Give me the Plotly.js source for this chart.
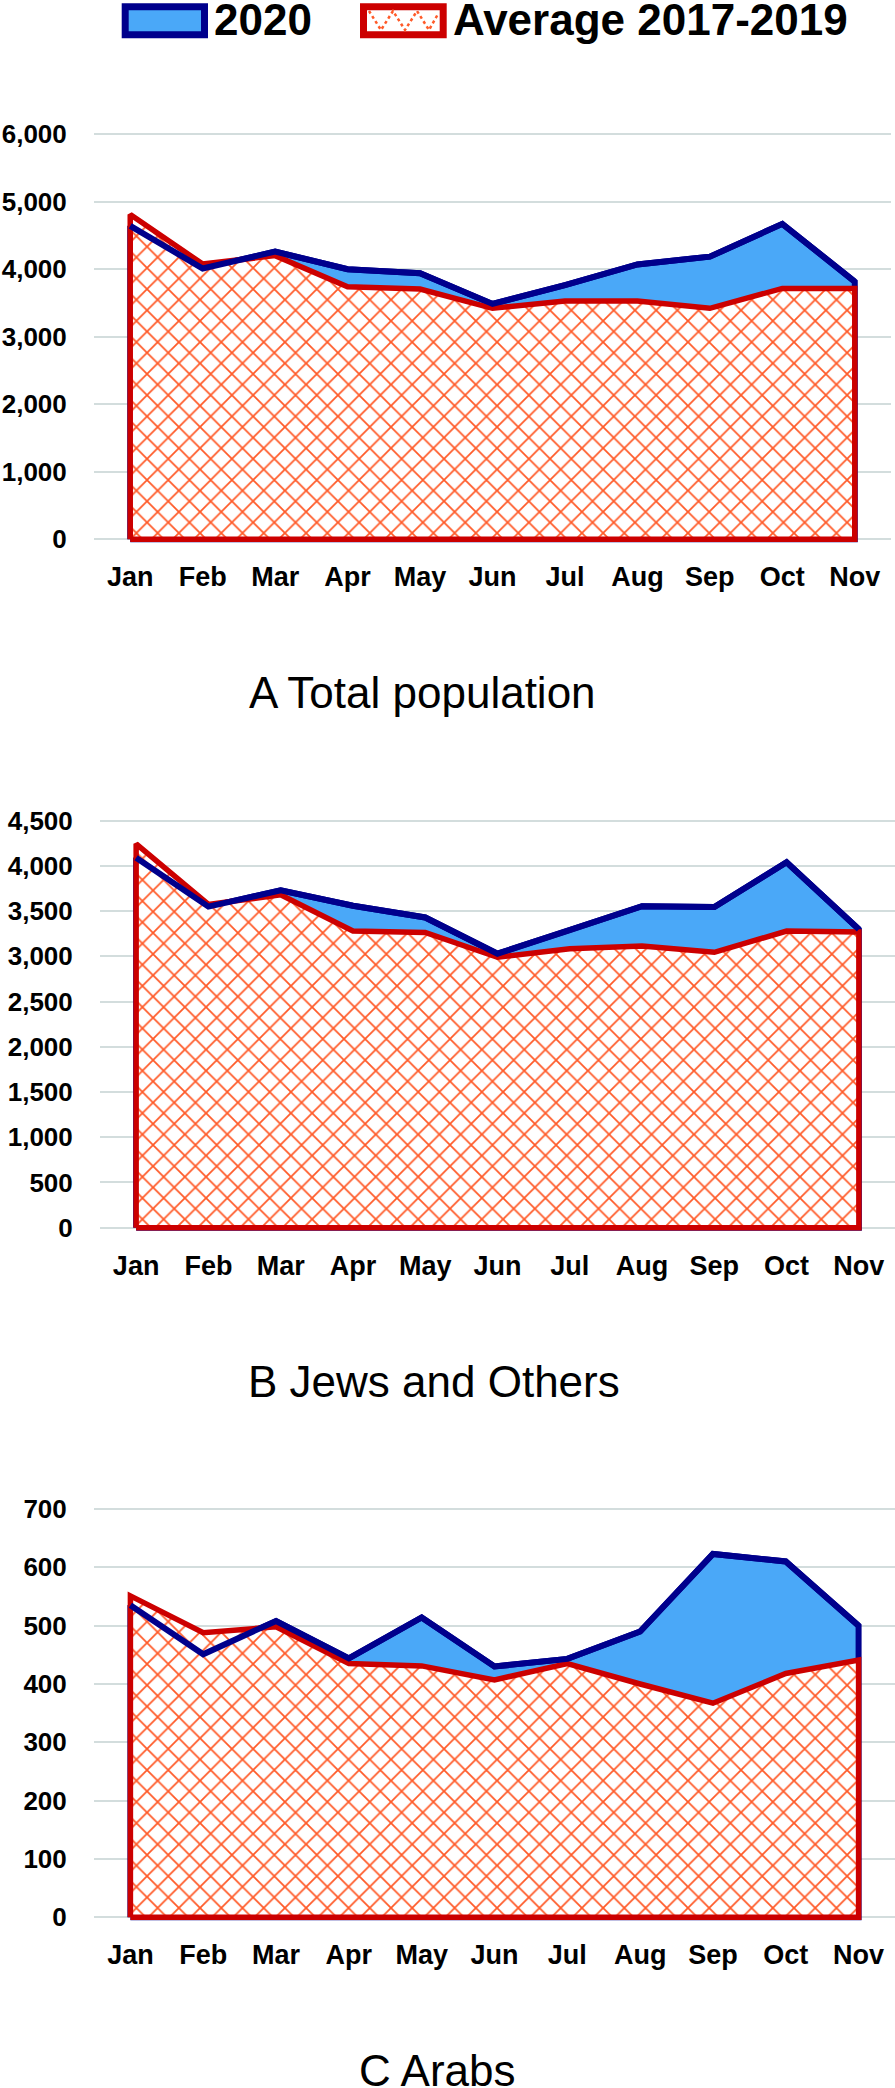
<!DOCTYPE html>
<html>
<head>
<meta charset="utf-8">
<script src="https://cdn.plot.ly/plotly-3.0.1.min.js"></script>
<style>html,body{margin:0;padding:0;background:#fff;}#chart{width:895px;height:2088px;}</style>
</head>
<body>
<div id="chart"></div>
<script>
// ---- data ----
const months = ['Jan','Feb','Mar','Apr','May','Jun','Jul','Aug','Sep','Oct','Nov'];
const totalPop2020 = [4640, 4010, 4260, 4000, 3940, 3485, 3765, 4070, 4185, 4670, 3815];
const totalPopAvg  = [4810, 4075, 4200, 3740, 3705, 3420, 3530, 3530, 3420, 3715, 3715];
const jews2020     = [4090, 3550, 3730, 3560, 3430, 3030, 3290, 3555, 3545, 4040, 3300];
const jewsAvg      = [4245, 3575, 3680, 3280, 3265, 2990, 3085, 3115, 3045, 3280, 3270];
const arabs2020    = [535, 451, 508, 444, 514, 430, 443, 490, 623, 610, 500];
const arabsAvg     = [551, 488, 498, 435, 431, 407, 435, 400, 367, 418, 441];
const seriesNames  = ['2020', 'Average 2017-2019'];
const panelTitles  = ['A Total population', 'B Jews and Others', 'C Arabs'];

// ---- helpers ----
const W = 895, H = 2088;
const px = x => x / W;
const py = y => 1 - y / H;
const FONT = 'Liberation Sans, Arial, sans-serif';
const BLUE_FILL = '#4aa8f8', BLUE_LINE = '#00008c';
const RED_LINE = '#cc0000', HATCH = '#ff5a28';

function areaX() { return [months[0]].concat(months, [months[months.length-1], months[0]]); }
function areaY(v) { return [0].concat(v, [0, 0]); }

const panels = [
  {s:'',  a:totalPop2020, b:totalPopAvg, xd:[94,891],  yd:[130,543.4],   yr:[-60,6060], dt:1000},
  {s:'2', a:jews2020,     b:jewsAvg,     xd:[100,895], yd:[816.2,1232.2],yr:[-50,4550], dt:500},
  {s:'3', a:arabs2020,    b:arabsAvg,    xd:[94,895],  yd:[1504.9,1921.4],yr:[-7,707],  dt:100}
];

const data = [];
const layout = {
  width: W, height: H,
  margin: {l:0, r:0, t:0, b:0, pad:0},
  paper_bgcolor: '#fff', plot_bgcolor: 'rgba(0,0,0,0)',
  showlegend: false, hovermode: false,
  font: {family: FONT, color: '#000'},
  shapes: [], annotations: []
};

panels.forEach(p => {
  // 2020 area (fill + outline)
  data.push({
    type:'scatter', mode:'lines', name: seriesNames[0],
    x: areaX(), y: areaY(p.a), xaxis:'x'+p.s, yaxis:'y'+p.s,
    fill:'toself', fillcolor: BLUE_FILL,
    line:{color: BLUE_LINE, width:6}, hoverinfo:'skip'
  });
  // average area (hatched)
  data.push({
    type:'scatter', mode:'lines', name: seriesNames[1],
    x: areaX(), y: areaY(p.b), xaxis:'x'+p.s, yaxis:'y'+p.s,
    fill:'toself', fillcolor:'#ffffff',
    fillpattern:{shape:'x', fgcolor: HATCH, bgcolor:'#ffffff', size:15, solidity:0.22},
    line:{color: RED_LINE, width:5.5}, hoverinfo:'skip'
  });
  // 2020 line on top
  data.push({
    type:'scatter', mode:'lines', name: seriesNames[0],
    x: months, y: p.a, xaxis:'x'+p.s, yaxis:'y'+p.s,
    line:{color: BLUE_LINE, width:6}, hoverinfo:'skip'
  });
  layout['xaxis'+p.s] = {
    domain:[px(p.xd[0]), px(p.xd[1])], anchor:'y'+p.s,
    type:'category', categoryorder:'array', categoryarray: months,
    range:[-0.5, 10.5], showgrid:false, zeroline:false, showline:false,
    ticks:'outside', ticklen:9, tickcolor:'rgba(0,0,0,0)',
    tickfont:{family:FONT, size:27, weight:700, color:'#000'},
    automargin:false, fixedrange:true
  };
  layout['yaxis'+p.s] = {
    domain:[py(p.yd[1]), py(p.yd[0])], anchor:'x'+p.s,
    range:p.yr, tick0:0, dtick:p.dt, tickformat:',d',
    showgrid:true, gridcolor:'#d3dddd', gridwidth:2,
    zeroline:false, showline:false,
    ticks:'outside', ticklen:21, tickcolor:'rgba(0,0,0,0)',
    tickfont:{family:FONT, size:26, weight:700, color:'#000'},
    automargin:false, fixedrange:true
  };
});

// panel titles
const titlePos = [[422.5, 692], [434, 1381], [437, 2070]];
panelTitles.forEach((t, i) => {
  layout.annotations.push({
    xref:'paper', yref:'paper', x:px(titlePos[i][0]), y:py(titlePos[i][1]),
    xanchor:'center', yanchor:'middle', showarrow:false, text:t,
    font:{family:FONT, size:44, color:'#000'}
  });
});

// legend (drawn at the top)
layout.shapes.push({type:'rect', xref:'paper', yref:'paper',
  x0:px(125.2), x1:px(204.5), y0:py(34.8), y1:py(6.8),
  fillcolor:BLUE_FILL, line:{color:BLUE_LINE, width:7}});
layout.shapes.push({type:'rect', xref:'paper', yref:'paper',
  x0:px(363.5), x1:px(443.2), y0:py(34.8), y1:py(6.8),
  fillcolor:'#ffffff', line:{color:RED_LINE, width:7}});
(function(){
  const zx = [369, 381, 393, 405, 417, 429, 438];
  const zy = [11, 30, 11, 30, 11, 30, 14];
  let d = '';
  zx.forEach((x, i) => { d += (i ? ' L ' : 'M ') + px(x) + ',' + py(zy[i]); });
  layout.shapes.push({type:'path', xref:'paper', yref:'paper', path:d,
    line:{color:HATCH, width:2.5, dash:'dot'}});
})();
layout.annotations.push({xref:'paper', yref:'paper', x:px(212), y:py(20),
  xanchor:'left', yanchor:'middle', showarrow:false, text:seriesNames[0],
  font:{family:FONT, size:44, weight:700, color:'#000'}});
layout.annotations.push({xref:'paper', yref:'paper', x:px(451), y:py(20),
  xanchor:'left', yanchor:'middle', showarrow:false, text:seriesNames[1],
  font:{family:FONT, size:44, weight:700, color:'#000'}});

Plotly.newPlot('chart', data, layout, {displayModeBar:false, staticPlot:true});
</script>
</body>
</html>
